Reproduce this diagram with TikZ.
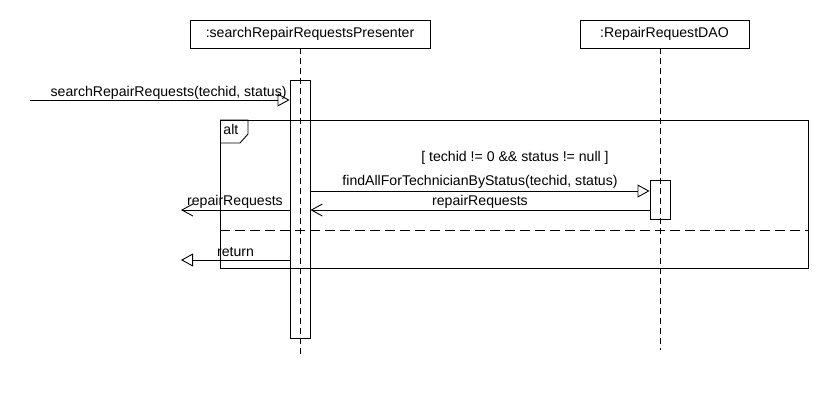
\documentclass[tikz,border=0pt]{standalone}
\usepackage{fontspec}
\setmainfont{Liberation Sans}
\usetikzlibrary{arrows.meta, positioning}

\begin{document}
\begin{tikzpicture}[x=1pt, y=-1pt, line width=0.9pt,
    font=\fontsize{14.1}{16}\selectfont,
    object/.style={draw, minimum height=28pt, inner sep=0pt},
    activation/.style={draw, minimum width=20pt, inner sep=0pt},
    lifeline/.style={dash pattern=on 6pt off 4pt},
    call/.style={-{Triangle[open, length=12pt, width=13pt]}},
    reply/.style={-{Straight Barb[length=11pt, width=12pt]}},
    msg/.style={inner sep=0pt, anchor=base}]
    \useasboundingbox (0,0) rectangle (830,400);

    \node[object, minimum width=240pt] (presenter) at (310,34) {:searchRepairRequestsPresenter};
    \node[object, minimum width=169pt] (dao) at (664.5,34) {:RepairRequestDAO};

    \node[activation, minimum height=258pt] (act) at (300,209) {};
    \node[activation, minimum height=39pt] (daoact) at (660,199.5) {};

    \coordinate (presend) at (300,357);
    \coordinate (daoend) at (660,350);
    \draw[lifeline] (presenter.south -| presend) -- (presend);
    \draw[lifeline] (dao.south -| daoend) -- (daoend);

    % alt fragment
    \node[draw, anchor=north west, minimum width=588pt, minimum height=148pt] (alt) at (220,120) {};
    \draw (alt.north west) -- ++(28,0) -- ++(0,14) -- ++(-8,9) -- ++(-20,0);
    \node[msg, anchor=base west] (altlabel) at (223,134) {alt};
    \node[msg] (guard) at (515,161) {[ techid != 0 \&\& status != null ]};
    \draw[dash pattern=on 10pt off 5pt] (alt.west |- 0,230) -- (alt.east |- 0,230);

    \coordinate (caller) at (30,100);
    \draw[call] (caller) -- (caller -| act.west);
    \node[msg, anchor=base east] (m1) at (287,96) {searchRepairRequests(techid, status)};

    \draw[call] (act.east |- 0,191) -- (daoact.west |- 0,191);
    \node[msg] (m2) at (480,185) {findAllForTechnicianByStatus(techid, status)};

    \draw[reply] (daoact.west |- 0,210) -- (act.east |- 0,210);
    \node[msg] (m3) at (480,205) {repairRequests};

    \coordinate (back1) at (181,210);
    \draw[reply] (act.west |- back1) -- (back1);
    \node[msg] (m4) at (235,205) {repairRequests};

    \coordinate (back2) at (181,260);
    \draw[call] (act.west |- back2) -- (back2);
    \node[msg] (m5) at (235.5,256) {return};
\end{tikzpicture}
\end{document}
